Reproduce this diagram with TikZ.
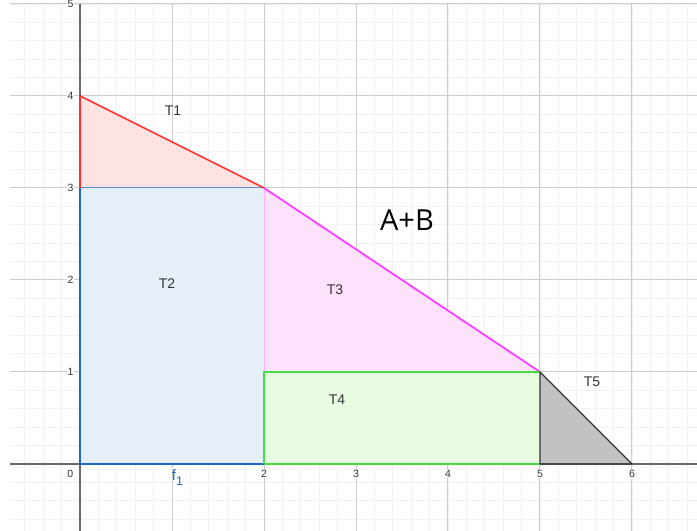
\documentclass[tikz,border=0pt]{standalone}
\usepackage{fontspec}
\setmainfont{Liberation Sans}
\newfontfamily\opensans{Open Sans}
\definecolor{minorg}{HTML}{F1F1F1}
\definecolor{majorg}{HTML}{CCCCCC}
\definecolor{axisg}{HTML}{6A6A6A}
\definecolor{txt}{HTML}{333333}
\definecolor{redE}{HTML}{FF3030}
\definecolor{redF}{HTML}{FDE3E3}
\definecolor{blueE}{HTML}{1E66C8}
\definecolor{blueF}{HTML}{E6EEF8}
\definecolor{magE}{HTML}{FF40FF}
\definecolor{magF}{HTML}{FCE2FC}
\definecolor{greenE}{HTML}{44DD44}
\definecolor{greenF}{HTML}{E8FCE2}
\definecolor{darkE}{HTML}{333333}
\definecolor{greyF}{HTML}{C2C2C2}
\tikzset{
  minorgrid/.style={draw=minorg, line width=0.9pt},
  majorgrid/.style={draw=majorg, line width=1pt},
  axisline/.style={draw=axisg, line width=1.3pt},
  ticklab/.style={font=\fontsize{10.5}{12}\selectfont, text=txt, fill=white, inner sep=0.8pt},
  tlab/.style={font=\fontsize{14}{16}\selectfont, text=txt, inner sep=0pt},
}
\begin{document}
\begin{tikzpicture}[x=92pt,y=92pt,line join=round]
\useasboundingbox (-0.870,-0.728) rectangle (6.707,5.043);
\fill[white] (-0.870,-0.728) rectangle (6.707,5.043);
% grid
\draw[minorgrid] (-0.76,-0.728) grid[step=0.2] (6.707,5.0);
\draw[majorgrid] (-0.76,-0.728) grid[step=1] (6.707,5.0);
% key points
\coordinate (O) at (0,0);
\coordinate (P2) at (2,0);
\coordinate (P5) at (5,0);
\coordinate (P6) at (6,0);
\coordinate (Q1) at (2,1);
\coordinate (Q5) at (5,1);
\coordinate (R0) at (0,3);
\coordinate (R2) at (2,3);
\coordinate (S0) at (0,4);
% fills
\fill[redF] (R0) -- (S0) -- (R2) -- cycle;
\fill[blueF] (O) -- (P2) -- (R2) -- (R0) -- cycle;
\fill[magF] (Q1) -- (R2) -- (Q5) -- cycle;
\fill[greenF] (P2) -- (P5) -- (Q5) -- (Q1) -- cycle;
\fill[greyF] (P5) -- (P6) -- (Q5) -- cycle;
% axes
\draw[axisline] (-0.76,0) -- (6.707,0);
\draw[axisline] (0,-0.728) -- (0,5.0);
% edges
\draw[draw=magE!40, line width=0.8pt] (Q1) -- (R2);
\draw[draw=blueE!75!white, line width=0.9pt] (R0) -- (R2);
\draw[draw=blueE, line width=1.3pt] (R0) -- (O) -- (P2);
\draw[draw=redE, line width=1.5pt] (R0) -- (S0) -- (R2);
\draw[draw=magE, line width=1.8pt] (R2) -- (Q5);
\draw[draw=greenE, line width=1.3pt] (P2) -- (P5) (Q5) -- (Q1) -- (P2);
\draw[draw=darkE, line width=1.3pt] (P5) -- (P6) -- (Q5) -- cycle;
% tick labels
\node[ticklab] (x0) at (-0.105,-0.11) {0};
\node[ticklab] (x2) at (2,-0.11) {2};
\node[ticklab] (x3) at (3,-0.11) {3};
\node[ticklab] (x4) at (4,-0.11) {4};
\node[ticklab] (x5) at (5,-0.11) {5};
\node[ticklab] (x6) at (6,-0.11) {6};
\node[ticklab, anchor=east] (y1) at (-0.06,1) {1};
\node[ticklab, anchor=east] (y2) at (-0.06,2) {2};
\node[ticklab, anchor=east] (y3) at (-0.06,3) {3};
\node[ticklab, anchor=east] (y4) at (-0.06,4) {4};
\node[ticklab, anchor=east] (y5) at (-0.06,5) {5};
% f1 label
\node[font=\fontsize{15}{17}\selectfont, text=blueE, inner sep=0pt] (f1) at (1.06,-0.15) {f\raisebox{-5pt}{\fontsize{12.5}{14}\selectfont 1}};
% region labels
\node[tlab] (t1) at (1.01,3.837) {T1};
\node[tlab] (t2) at (0.946,1.957) {T2};
\node[tlab] (t3) at (2.772,1.891) {T3};
\node[tlab] (t4) at (2.793,0.696) {T4};
\node[tlab] (t5) at (5.565,0.891) {T5};
\node[font=\opensans\fontsize{29}{32}\selectfont, text=black, inner sep=0pt] (ab) at (3.554,2.652) {A+B};
\end{tikzpicture}
\end{document}
